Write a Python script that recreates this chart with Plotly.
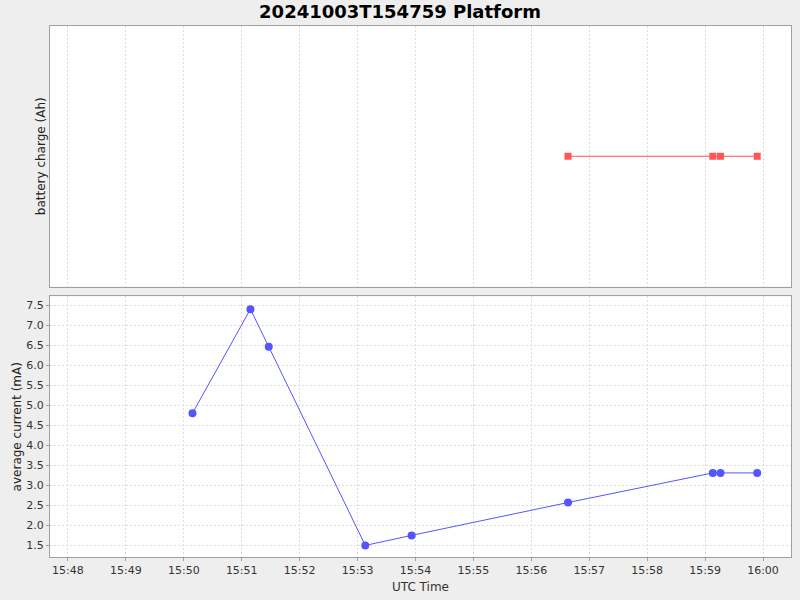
import plotly.graph_objects as go

title = "20241003T154759 Platform"

# average current samples
current_times = ["2024-10-03 15:50:09", "2024-10-03 15:51:09", "2024-10-03 15:51:28",
                 "2024-10-03 15:53:08", "2024-10-03 15:53:56", "2024-10-03 15:56:38",
                 "2024-10-03 15:59:08", "2024-10-03 15:59:16", "2024-10-03 15:59:54"]
current_ma = [4.80, 7.40, 6.46, 1.50, 1.75, 2.57, 3.31, 3.31, 3.31]

# battery charge samples
charge_times = ["2024-10-03 15:56:38", "2024-10-03 15:59:08",
                "2024-10-03 15:59:16", "2024-10-03 15:59:54"]
charge_ah = [0.0, 0.0, 0.0, 0.0]

x_range = ["2024-10-03 15:47:41.4", "2024-10-03 16:00:29"]

font = "DejaVu Sans"
axis_color = "#a0a0a0"
grid_color = "#dcdcdc"
dash = "2px,2px"

fig = go.Figure()
fig.add_trace(go.Scatter(x=charge_times, y=charge_ah, mode="lines+markers",
                         line=dict(color="#ff5555", width=1),
                         marker=dict(symbol="square", size=7, color="#ff5555"),
                         xaxis="x2", yaxis="y2", showlegend=False))
fig.add_trace(go.Scatter(x=current_times, y=current_ma, mode="lines+markers",
                         line=dict(color="#5555ff", width=1),
                         marker=dict(symbol="circle", size=8, color="#5555ff"),
                         xaxis="x", yaxis="y", showlegend=False))

common_x = dict(type="date", range=x_range, dtick=60000, tickformat="%H:%M",
                showgrid=True, gridcolor=grid_color, griddash=dash, gridwidth=1,
                showline=True, linecolor=axis_color, linewidth=1, mirror=True,
                zeroline=False)

fig.update_layout(
    width=800, height=600,
    paper_bgcolor="#eeeeee", plot_bgcolor="white",
    margin=dict(l=50, r=8, t=26, b=40),
    font=dict(family=font, size=11, color="#333333"),
    title=dict(text="<b>" + title + "</b>", x=0.5, xanchor="center",
               y=0.98, yanchor="middle",
               font=dict(family=font, size=18, color="black")),
    xaxis=dict(common_x, anchor="y", ticks="outside", ticklen=3, tickcolor=axis_color,
               tickfont=dict(size=11, color="#333333"),
               title=dict(text="UTC Time", font=dict(size=12, color="#333333"), standoff=6)),
    yaxis=dict(domain=[0, 0.4906], range=[1.21, 7.716], dtick=0.5, tickformat=".1f",
               showgrid=True, gridcolor=grid_color, griddash=dash,
               showline=True, linecolor=axis_color, mirror=True, zeroline=False,
               ticks="outside", ticklen=3, tickcolor=axis_color,
               tickfont=dict(size=11, color="#333333"),
               title=dict(text="average current (mA)", font=dict(size=12, color="#222222"),
                          standoff=2)),
    xaxis2=dict(common_x, anchor="y2", matches="x", showticklabels=False, ticks=""),
    yaxis2=dict(domain=[0.5094, 1], range=[-1, 1], showticklabels=False,
                showgrid=False, ticks="",
                showline=True, linecolor=axis_color, mirror=True, zeroline=False,
                title=dict(text="battery charge (Ah)", font=dict(size=12, color="#222222"),
                           standoff=0)),
)

fig.write_html("out.html", config={"displayModeBar": False},
               post_script="document.body.style.margin='0';"
                           "document.body.style.overflow='hidden';"
                           "document.body.style.background='#eeeeee';")
